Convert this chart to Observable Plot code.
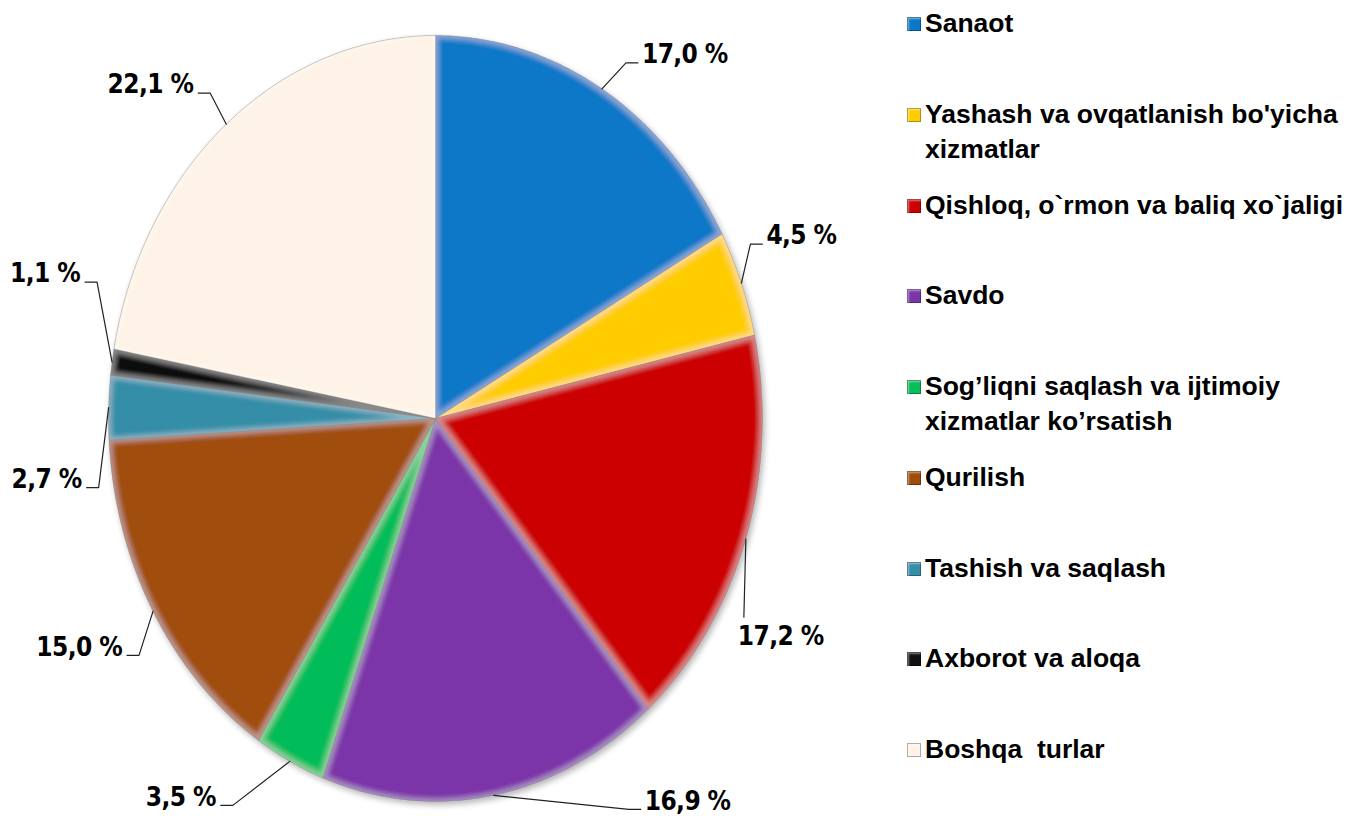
<!DOCTYPE html>
<html>
<head>
<meta charset="utf-8">
<script src="https://cdn.jsdelivr.net/npm/d3@7"></script>
<script src="https://cdn.jsdelivr.net/npm/@observablehq/plot@0.6"></script>
<style>
  html, body { margin: 0; padding: 0; background: #fff; }
  #wrap { position: relative; width: 1347px; height: 816px; overflow: hidden; }
  #chart { position: absolute; left: 0; top: 0; }
  #legend { position: absolute; left: 907px; top: 6px; font-family: "Liberation Sans", Arial, sans-serif; font-weight: bold; font-size: 26.5px; color: #000; }
  .item { height: 90.75px; display: flex; align-items: flex-start; }
  .sw { width: 14px; height: 14px; margin-top: 11px; margin-right: 4px; flex: none; box-shadow: inset 0 0 0 1px rgba(0,0,0,0.3), inset 2px 2px 2px rgba(255,255,255,0.45); }
  .lbl { line-height: 35px; white-space: pre; }
  #chart text { font-stretch: condensed; letter-spacing: -0.6px; }
</style>
</head>
<body>
<div id="wrap">
  <div id="chart"></div>
  <div id="legend"></div>
</div>
<script>
// ---- data ----
const categories = [
  "Sanaot",
  "Yashash va ovqatlanish bo'yicha xizmatlar",
  "Qishloq, o`rmon va baliq xo`jaligi",
  "Savdo",
  "Sog’liqni saqlash va ijtimoiy xizmatlar ko’rsatish",
  "Qurilish",
  "Tashish va saqlash",
  "Axborot va aloqa",
  "Boshqa  turlar"
];
const legendLines = [
  "Sanaot",
  "Yashash va ovqatlanish bo'yicha\nxizmatlar",
  "Qishloq, o`rmon va baliq xo`jaligi",
  "Savdo",
  "Sog’liqni saqlash va ijtimoiy\nxizmatlar ko’rsatish",
  "Qurilish",
  "Tashish va saqlash",
  "Axborot va aloqa",
  "Boshqa  turlar"
];
const shares = [17.0, 4.5, 17.2, 16.9, 3.5, 15.0, 2.7, 1.1, 22.1];
const colors = ["#0A78C8", "#FFCC00", "#CC0000", "#7B35A8", "#06BD5A", "#A04D0C", "#348EA8", "#111111", "#FEF3E6"];

// label leader layout (pixel offsets of the elbow from the slice edge, and text side)
const leaderOffsets = [[24,-26],[9,-39],[-2,78],[135,14],[-57,44],[-14,44],[-10,80],[-15,-80],[-16,-31]];
const labelSides = ["right","right","below","right","left","left","left","left","left"];

// ---- geometry ----
const W = 880, H = 816;
const mL = 108, mR = 118, mT = 35, mB = 15;
const rx = (W - mL - mR) / 2, ry = (H - mT - mB) / 2;

const arcs = d3.pie().sort(null).value(d => d)(shares);
const slicePts = [];
arcs.forEach((a, i) => {
  const cat = categories[i];
  slicePts.push({cat, x: 0, y: 0});
  const n = Math.max(2, Math.ceil((a.endAngle - a.startAngle) / (Math.PI / 360)));
  for (let k = 0; k <= n; k++) {
    const t = a.startAngle + (a.endAngle - a.startAngle) * k / n;
    slicePts.push({cat, x: Math.sin(t), y: Math.cos(t)});
  }
});

const fmt = v => v.toFixed(1).replace(".", ",") + " %";
const leaderPts = [];
const labels = [];
arcs.forEach((a, i) => {
  const m = (a.startAngle + a.endAngle) / 2;
  const x0 = Math.sin(m), y0 = Math.cos(m);
  const [dx, dy] = leaderOffsets[i];
  const x1 = x0 + dx / rx, y1 = y0 - dy / ry;
  const side = labelSides[i];
  leaderPts.push({id: i, x: x0, y: y0}, {id: i, x: x1, y: y1});
  let x2 = x1;
  if (side === "right") x2 = x1 + 12 / rx;
  if (side === "left") x2 = x1 - 12 / rx;
  if (side !== "below") leaderPts.push({id: i, x: x2, y: y1});
  labels.push({side, x: x2, y: y1, text: fmt(shares[i])});
});

const labelFont = '"Liberation Sans Narrow", "Arial Narrow", "DejaVu Sans", sans-serif';
const tOpts = {x: "x", y: "y", text: "text", fontSize: 26, fontWeight: "bold", fontFamily: labelFont, fill: "#000"};

const chart = Plot.plot({
  width: W, height: H,
  marginLeft: mL, marginRight: mR, marginTop: mT, marginBottom: mB,
  x: {domain: [-1, 1], axis: null},
  y: {domain: [-1, 1], axis: null},
  color: {type: "ordinal", domain: categories, range: colors, legend: false},
  style: {overflow: "visible", background: "transparent"},
  marks: [
    Plot.line(slicePts, {x: "x", y: "y", z: "cat", fill: "cat", stroke: "rgba(0,0,0,0.35)", strokeWidth: 0.8, curve: "linear-closed"}),
    Plot.line(leaderPts, {x: "x", y: "y", z: "id", stroke: "#222", strokeWidth: 1.2}),
    Plot.text(labels.filter(d => d.side === "right"), {...tOpts, textAnchor: "start", dx: 4, dy: -8}),
    Plot.text(labels.filter(d => d.side === "left"), {...tOpts, textAnchor: "end", dx: -5, dy: -8}),
    Plot.text(labels.filter(d => d.side === "below"), {...tOpts, textAnchor: "start", dx: -6, dy: 20})
  ]
});

// bevel highlight for each slice, soft shadow for the whole pie
const ns = "http://www.w3.org/2000/svg";
const defs = document.createElementNS(ns, "defs");
defs.innerHTML = `
  <filter id="bevel" x="-10%" y="-10%" width="120%" height="120%">
    <feMorphology in="SourceAlpha" operator="erode" radius="3" result="er"/>
    <feGaussianBlur in="er" stdDeviation="2.5" result="bl"/>
    <feComposite in="SourceAlpha" in2="bl" operator="out" result="rim"/>
    <feFlood flood-color="#ffffff" flood-opacity="0.25" result="fl"/>
    <feComposite in="fl" in2="rim" operator="in" result="hl"/>
    <feMerge><feMergeNode in="SourceGraphic"/><feMergeNode in="hl"/></feMerge>
  </filter>
  <filter id="pieshadow" x="-5%" y="-5%" width="110%" height="110%">
    <feGaussianBlur in="SourceAlpha" stdDeviation="3" result="sh"/>
    <feOffset in="sh" dx="2" dy="3" result="sho"/>
    <feComponentTransfer in="sho" result="shf"><feFuncA type="linear" slope="0.3"/></feComponentTransfer>
    <feMerge><feMergeNode in="shf"/><feMergeNode in="SourceGraphic"/></feMerge>
  </filter>`;
chart.insertBefore(defs, chart.firstChild);
const sliceGroup = chart.querySelector('g[aria-label="line"]');
if (sliceGroup) {
  sliceGroup.setAttribute("filter", "url(#pieshadow)");
  sliceGroup.querySelectorAll("path").forEach(p => p.setAttribute("filter", "url(#bevel)"));
}

document.getElementById("chart").appendChild(chart);

// ---- legend ----
const leg = document.getElementById("legend");
categories.forEach((c, i) => {
  const it = document.createElement("div");
  it.className = "item";
  const sw = document.createElement("div");
  sw.className = "sw";
  sw.style.background = colors[i];
  const lb = document.createElement("div");
  lb.className = "lbl";
  lb.textContent = legendLines[i];
  it.appendChild(sw); it.appendChild(lb);
  leg.appendChild(it);
});
</script>
</body>
</html>
